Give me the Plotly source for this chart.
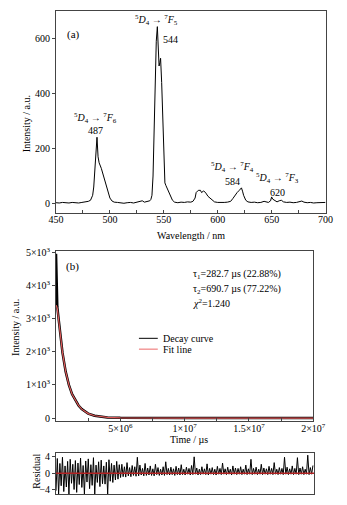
import plotly.graph_objects as go

# ---------------- Panel (a): emission spectrum ----------------
wavelength = [450, 453, 456, 459, 462, 465, 468, 471, 474, 477, 480, 482, 484, 485, 486, 487, 488,
              489, 490, 492, 494, 496, 498, 500, 502, 504, 507, 510, 513, 516, 519, 522, 525, 528,
              530, 532, 535, 537, 538, 539, 540, 541, 542, 543, 544, 545, 545.6, 546.3, 547, 548,
              549, 550, 551, 552, 554, 556, 558, 560, 563, 566, 569, 572, 575, 577, 579, 580, 582,
              584, 585, 587, 589, 591, 593, 595, 597, 600, 603, 606, 609, 612, 614, 616, 618, 620,
              622, 623, 624, 626, 628, 631, 634, 637, 640, 643, 645, 647, 649, 650, 651, 653, 655,
              657, 659, 661, 664, 667, 670, 673, 676, 678, 680, 683, 686, 689, 692, 695, 698, 700]
intensity = [3, 2, 4, 3, 2, 4, 3, 2, 4, 5, 8, 12, 30, 60, 120, 200, 241,
             170, 148, 128, 100, 72, 45, 20, 9, 5, 4, 3, 1, 3, 4, 2, 5, 6,
             10, 5, 8, 10, 15, 30, 100, 290, 470, 590, 643, 555, 500, 512, 528, 440,
             300, 170, 75, 65, 45, 26, 12, 5, 3, 5, 4, 6, 5, 8, 20, 40, 48,
             48, 40, 46, 38, 26, 20, 12, 6, 4, 3, 4, 5, 8, 18, 30, 40, 48,
             57, 45, 30, 12, 6, 4, 5, 3, 4, 8, 6, 4, 10, 24, 16, 10, 6,
             10, 12, 6, 4, 5, 3, 4, 7, 9, 5, 3, 4, 2, 3, 4, 3, 4]
a_xticks = [450, 500, 550, 600, 650, 700]
a_yticks = [0, 200, 400, 600]

# ---------------- Panel (b): decay curve ----------------
decay_time = [0, 0.05e6, 0.1e6, 0.2e6, 0.35e6, 0.5e6, 0.75e6, 1.0e6, 1.25e6, 1.5e6, 1.75e6,
              2.0e6, 2.5e6, 3.0e6, 3.5e6, 4.0e6, 5e6, 6e6, 8e6, 1e7, 1.5e7, 2e7]
decay_intensity = [4950, 3600, 3350, 3000, 2400, 1980, 1400, 1000, 720, 530, 380,
                   270, 135, 70, 38, 20, 8, 3, 1, 0, 0, 0]
fit_time = [0.02e6, 0.1e6, 0.2e6, 0.35e6, 0.5e6, 0.75e6, 1.0e6, 1.25e6, 1.5e6, 1.75e6,
            2.0e6, 2.5e6, 3.0e6, 3.5e6, 4.0e6, 5e6, 6e6, 8e6, 1e7, 1.5e7, 2e7]
fit_intensity = [3400, 3300, 2980, 2400, 1980, 1400, 1000, 720, 530, 380,
                 270, 135, 70, 38, 20, 8, 3, 1, 0, 0, 0]
b_yticks = [0, 1000, 2000, 3000, 4000, 5000]
b_yticktext = ["0", "1×10<sup>3</sup>", "2×10<sup>3</sup>", "3×10<sup>3</sup>",
               "4×10<sup>3</sup>", "5×10<sup>3</sup>"]
b_xticks = [5e6, 1e7, 1.5e7, 2e7]
b_xticktext = ["5×10<sup>6</sup>", "1×10<sup>7</sup>", "1.5×10<sup>7</sup>", "2×10<sup>7</sup>"]

# ---------------- Residual ----------------
residual_step = 1e5
residual = [-4.2, 3.6, -5.0, 2.4, -3.0, 3.9, -4.4, 1.8, -3.3, 2.9,
            -5.0, 3.4, -2.4, 2.2, -3.9, 3.1, -4.6, 2.5, -2.7, 3.7,
            -3.4, 1.9, -5.0, 3.0, -2.1, 3.5, -3.7, 2.1, -2.9, 3.8,
            -5.0, 2.0, -2.2, 2.8, -3.2, 3.2, -2.5, 1.8, -2.6, 2.7,
            -5.0, 3.3, -1.9, 2.4, -2.2, 2.0, -1.6, 2.9, -1.4, 2.1,
            -1.0, 2.2, -0.8, 1.6, -0.9, 2.6, -0.6, 1.4, -0.8, 1.9,
            -0.5, 1.6, -0.7, 3.9, -0.6, 2.0, -0.4, 1.2, -0.6, 2.4,
            -0.5, 1.3, -0.4, 1.8, -0.5, 1.1, -0.6, 2.2, -0.3, 1.4,
            -0.5, 1.0, -0.4, 1.6, -0.5, 2.8, -0.3, 1.2, -0.4, 1.5,
            -0.3, 1.1, -0.5, 1.7, -0.3, 1.3, -0.4, 2.1, -0.3, 1.0,
            -0.4, 1.5, -0.2, 1.2, -0.4, 1.9, -0.3, 4.0, -0.2, 1.3,
            -0.4, 1.0, -0.3, 1.6, -0.2, 1.1, -0.3, 2.3, -0.4, 1.2,
            -0.2, 1.4, -0.3, 1.0, -0.4, 1.7, -0.2, 1.2, -0.3, 2.5,
            -0.2, 1.1, -0.3, 1.5, -0.2, 1.0, -0.4, 1.8, -0.2, 1.3,
            -0.3, 1.2, -0.2, 1.6, -0.3, 1.0, -0.2, 2.0, -0.3, 1.1,
            -0.2, 3.4, -0.3, 1.2, -0.2, 1.5, -0.3, 1.0, -0.2, 2.2,
            -0.3, 1.3, -0.2, 1.1, -0.3, 1.7, -0.2, 1.2, -0.3, 2.6,
            -0.2, 1.0, -0.3, 1.4, -0.2, 1.2, -0.3, 3.9, -0.2, 1.5,
            -0.3, 1.1, -0.2, 1.8, -0.3, 1.2, -0.2, 3.8, -0.3, 1.3,
            -0.2, 1.6, -0.3, 1.0, -0.2, 4.4, -0.3, 1.4, -0.2, 1.9]
residual_time = [i * residual_step for i in range(len(residual))]
r_yticks = [-4, 0, 4]

FONT = "Liberation Serif"
AX = "#444444"

fig = go.Figure()
fig.add_trace(go.Scatter(x=wavelength, y=intensity, mode="lines",
                         line=dict(color="black", width=1), xaxis="x", yaxis="y", showlegend=False))
fig.add_trace(go.Scatter(x=decay_time, y=decay_intensity, mode="lines",
                         line=dict(color="black", width=2.5), xaxis="x2", yaxis="y2", showlegend=False))
fig.add_trace(go.Scatter(x=fit_time, y=fit_intensity, mode="lines",
                         line=dict(color="#e05a5a", width=1.2), xaxis="x2", yaxis="y2", showlegend=False))
fig.add_trace(go.Scatter(x=residual_time, y=residual, mode="lines",
                         line=dict(color="black", width=1), xaxis="x3", yaxis="y3", showlegend=False))
fig.add_trace(go.Scatter(x=[0, 2e7], y=[0, 0], mode="lines",
                         line=dict(color="#b22222", width=1.5), xaxis="x3", yaxis="y3", showlegend=False))

tickfont = dict(family=FONT, size=10, color="black")
common = dict(showgrid=False, zeroline=False, showline=True, linecolor=AX, linewidth=1,
              mirror=True, tickfont=tickfont, ticklen=3, tickcolor=AX)

fig.update_layout(
    width=347, height=505,
    margin=dict(l=0, r=0, t=0, b=0),
    paper_bgcolor="white", plot_bgcolor="white",
    font=dict(family=FONT, size=10, color="black"),
    xaxis=dict(common, domain=[0.1499, 0.9741], range=[450, 700], tickvals=a_xticks,
               ticks="inside", anchor="y", ticklabelstandoff=-3,
               minor=dict(dtick=25, ticks="inside", ticklen=3, tickcolor=AX)),
    yaxis=dict(common, domain=[0.582, 0.988], range=[-35, 700], tickvals=a_yticks,
               ticks="outside", anchor="x"),
    xaxis2=dict(common, domain=[0.1499, 0.9366], range=[0, 2e7], tickvals=b_xticks,
                ticktext=b_xticktext, ticks="inside", anchor="y2", ticklabelstandoff=-2,
                minor=dict(tickvals=[2.5e6, 7.5e6, 1.25e7, 1.75e7], ticks="inside", ticklen=3, tickcolor=AX)),
    yaxis2=dict(common, domain=[0.164, 0.507], range=[-98, 5051], tickvals=b_yticks,
                ticktext=b_yticktext, ticks="outside", anchor="x2"),
    xaxis3=dict(common, domain=[0.1499, 0.9395], range=[0, 2e7], showticklabels=False,
                ticks="", anchor="y3"),
    yaxis3=dict(common, domain=[0.018, 0.101], range=[-5, 5], tickvals=r_yticks,
                ticks="outside", anchor="x3"),
)

ann = []
def txt(x, y, s, xref="paper", yref="paper", size=10, xanchor="center", yanchor="middle", angle=0):
    ann.append(dict(x=x, y=y, xref=xref, yref=yref, text=s, showarrow=False,
                    font=dict(family=FONT, size=size, color="black"),
                    xanchor=xanchor, yanchor=yanchor, textangle=angle))

# panel (a) labels
txt(466, 613, "(a)", "x", "y", size=11)
txt(487, 311, "<sup>5</sup><i>D</i><sub>4</sub> → <sup>7</sup><i>F</i><sub>6</sub>", "x", "y")
txt(487, 264, "487", "x", "y")
txt(543.5, 667, "<sup>5</sup><i>D</i><sub>4</sub> → <sup>7</sup><i>F</i><sub>5</sub>", "x", "y")
txt(556, 595, "544", "x", "y")
txt(614, 131, "<sup>5</sup><i>D</i><sub>4</sub> → <sup>7</sup><i>F</i><sub>4</sub>", "x", "y")
txt(614, 80, "584", "x", "y")
txt(655, 92, "<sup>5</sup><i>D</i><sub>4</sub> → <sup>7</sup><i>F</i><sub>3</sub>", "x", "y")
txt(655, 39, "620", "x", "y")

# axis titles
txt(195 / 347, 1 - 234 / 505, "Wavelength / nm")
txt(20 / 347, 1 - 120 / 505, "Intensity / a.u.", angle=-90)
txt(9 / 347, 1 - 327 / 505, "Intensity / a.u.", angle=-90)
txt(193 / 347, 1 - 441 / 505, "Time / µs")
txt(31 / 347, 1 - 473 / 505, "Residual", angle=-90)

# panel (b) labels
txt(70 / 347, 1 - 265 / 505, "(b)", size=11)
txt(195 / 347, 1 - 273 / 505, "τ<sub>1</sub>=282.7 µs (22.88%)", xanchor="left")
txt(195 / 347, 1 - 289 / 505, "τ<sub>2</sub>=690.7 µs (77.22%)", xanchor="left")
txt(195 / 347, 1 - 302 / 505, "<i>χ</i><sup>2</sup>=1.240", xanchor="left")

# legend
txt(163 / 347, 1 - 338 / 505, "Decay curve", xanchor="left")
txt(163 / 347, 1 - 349 / 505, "Fit line", xanchor="left")
fig.update_layout(annotations=ann)
fig.add_shape(type="line", xref="paper", yref="paper", x0=140 / 347, x1=160 / 347,
              y0=1 - 338 / 505, y1=1 - 338 / 505, line=dict(color="black", width=1))
fig.add_shape(type="line", xref="paper", yref="paper", x0=140 / 347, x1=160 / 347,
              y0=1 - 349 / 505, y1=1 - 349 / 505, line=dict(color="#f08080", width=1.2))

fig.write_html("out.html", config={"displayModeBar": False},
               post_script="document.body.style.margin='0';document.body.style.overflow='hidden';")
